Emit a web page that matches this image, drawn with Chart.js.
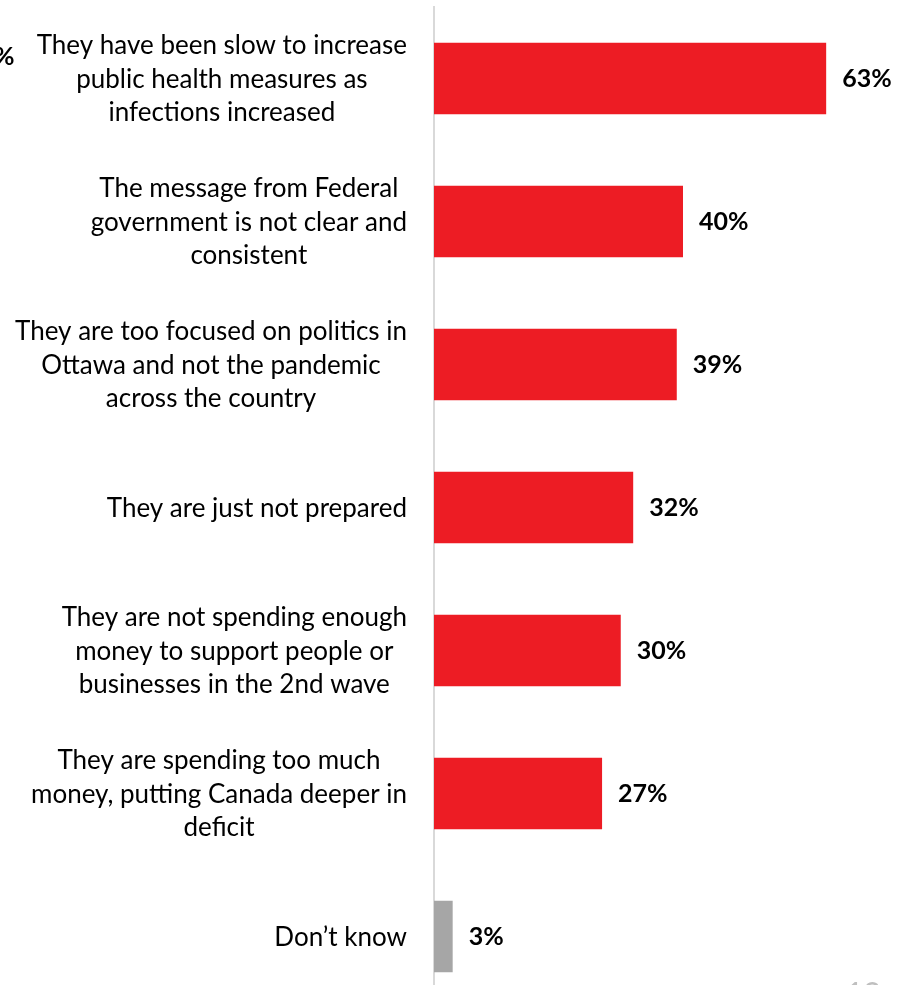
<!DOCTYPE html>
<html>
<head>
<meta charset="utf-8">
<script src="https://cdn.jsdelivr.net/npm/chart.js@4/dist/chart.umd.min.js"></script>
<style>
    html, body { margin: 0; padding: 0; background: #fff; overflow: hidden; }
    #wrap { position: relative; width: 899px; height: 1010px; }
    .frag { position: absolute; font-family: Lato, sans-serif; white-space: nowrap; }
</style>
</head>
<body>
<div id="wrap">
    <canvas id="chart"></canvas>
    <span class="frag" style="left:-6px; top:40px; font-size:25px; font-weight:bold; color:#000;">%</span>
    <span class="frag" style="left:846px; top:974px; font-size:30px; color:#bfbfbf;">12</span>
</div>
<script>
// reasons, top to bottom
var labels = [
    ['They have been slow to increase', 'public health measures as', 'infections increased'],
    ['The message from Federal', 'government is not clear and', 'consistent'],
    ['They are too focused on politics in', 'Ottawa and not the pandemic', 'across the country'],
    ['They are just not prepared'],
    ['They are not spending enough', 'money to support people or', 'businesses in the 2nd wave'],
    ['They are spending too much', 'money, putting Canada deeper in', 'deficit'],
    ['Don\u2019t know']
];
var values = [63, 40, 39, 32, 30, 27, 3];
var barColors = ['#ed1c24', '#ed1c24', '#ed1c24', '#ed1c24', '#ed1c24', '#ed1c24', '#a6a6a6'];

var labelFont = '26px Lato, sans-serif';
var valueFont = 'bold 25px Lato, sans-serif';

// category text left of the axis + bold value at the end of each bar
var textPlugin = {
    id: 'textPlugin',
    afterDraw: function (chart) {
        var ctx = chart.ctx;
        var yScale = chart.scales.y;
        var meta = chart.getDatasetMeta(0);
        var rightEdge = 407;
        var lineHeight = 33.5;

        ctx.save();
        ctx.fillStyle = '#000';
        ctx.textBaseline = 'middle';

        ctx.font = labelFont;
        ctx.textAlign = 'center';
        labels.forEach(function (lines, i) {
            var yc = yScale.getPixelForValue(i) + 1;
            var maxW = 0;
            lines.forEach(function (l) { maxW = Math.max(maxW, ctx.measureText(l).width); });
            var xc = rightEdge - maxW / 2;
            var y0 = yc - (lines.length - 1) * lineHeight / 2;
            lines.forEach(function (l, j) {
                ctx.fillText(l, xc, y0 + j * lineHeight);
            });
        });

        ctx.font = valueFont;
        ctx.textAlign = 'left';
        meta.data.forEach(function (bar, i) {
            ctx.fillText(values[i] + '%', bar.x + 16, bar.y);
        });
        ctx.restore();
    }
};

new Chart(document.getElementById('chart'), {
    type: 'bar',
    data: {
        labels: labels,
        datasets: [{
            data: values,
            backgroundColor: barColors,
            barPercentage: 0.5,
            categoryPercentage: 1
        }]
    },
    options: {
        indexAxis: 'y',
        responsive: true,
        maintainAspectRatio: false,
        animation: false,
        layout: { padding: { left: 434, top: 7, right: 0, bottom: 2 } },
        plugins: {
            legend: { display: false },
            tooltip: { enabled: false }
        },
        scales: {
            x: { display: false, min: 0, max: 74.7 },
            y: {
                display: true,
                ticks: { display: false },
                grid: { display: false, drawTicks: false },
                border: { display: true, color: '#d9d9d9', width: 2 }
            }
        }
    },
    plugins: [textPlugin]
});
</script>
</body>
</html>
